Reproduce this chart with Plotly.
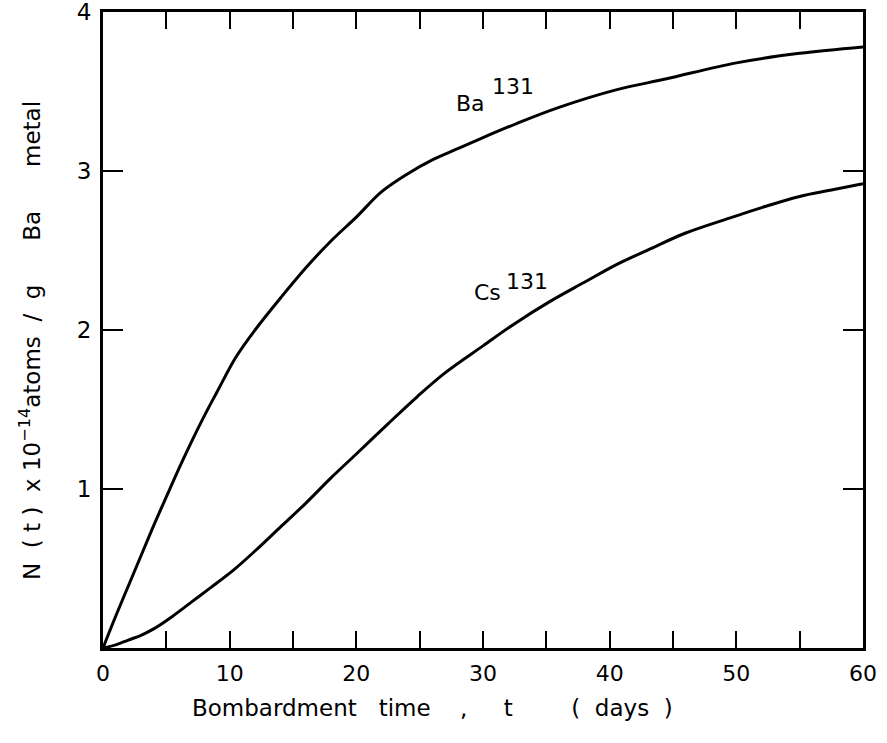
import plotly.graph_objects as go

# Ba-131 curve (days, N x 1e-14 atoms/g)
ba_t = [0, 1, 2, 3, 4, 5, 6, 7, 8, 9, 10.5, 12, 14, 16, 18, 20, 22, 24, 26, 28, 30, 32.7, 36, 40.5, 44.5, 50, 55, 60]
ba_n = [0, 0.20, 0.39, 0.58, 0.77, 0.95, 1.13, 1.30, 1.46, 1.61, 1.83, 2.00, 2.20, 2.39, 2.56, 2.71, 2.87, 2.98, 3.07, 3.14, 3.21, 3.30, 3.40, 3.51, 3.58, 3.68, 3.74, 3.78]

# Cs-131 curve
cs_t = [0, 1, 2, 3, 4, 5.5, 7, 8.5, 10.3, 12, 14, 16, 18, 20, 22.5, 24.8, 27, 30, 32.5, 35.3, 38, 40.5, 43.2, 46, 49.7, 52, 55, 57.5, 60]
cs_n = [0, 0.02, 0.05, 0.08, 0.12, 0.20, 0.29, 0.38, 0.49, 0.61, 0.76, 0.91, 1.07, 1.22, 1.41, 1.58, 1.73, 1.90, 2.04, 2.18, 2.30, 2.41, 2.51, 2.61, 2.71, 2.77, 2.84, 2.88, 2.92]

x_tickvals = [0, 10, 20, 30, 40, 50, 60]
x_ticktext = ["0", "10", "20", "30", "40", "50", "60"]
y_tickvals = [1, 2, 3, 4]
y_ticktext = ["1", "2", "3", "4"]

FONT = "DejaVu Sans"
NB = "\u00a0"

L, R, T, B = 103, 863, 12, 648
W, H = 887, 743


def px_x(p):
    return (p - L) / (R - L)


def px_y(p):
    return (B - p) / (B - T)


def dx(p):
    return (p - L) / (R - L) * 60


def dy(p):
    return (B - p) / (B - T) * 4


fig = go.Figure()
line_style = dict(color="black", width=3, shape="spline", smoothing=1.0)
fig.add_trace(go.Scatter(x=ba_t, y=ba_n, mode="lines", line=line_style, showlegend=False))
fig.add_trace(go.Scatter(x=cs_t, y=cs_n, mode="lines", line=line_style, showlegend=False))

fig.update_layout(
    width=W, height=H,
    margin=dict(l=L, r=W - R, t=T, b=H - B, autoexpand=False),
    paper_bgcolor="white", plot_bgcolor="white",
    font=dict(family=FONT, color="black", size=20),
    xaxis=dict(range=[0, 60], tickvals=x_tickvals, ticktext=x_ticktext,
               ticks="inside", ticklen=17, tickwidth=2, tickcolor="black",
               minor=dict(dtick=5, ticks="inside", ticklen=17, tickwidth=2, tickcolor="black", showgrid=False),
               showline=True, linecolor="black", linewidth=3, mirror="ticks",
               showgrid=False, zeroline=False, tickfont=dict(size=22), ticklabelstandoff=4,
               ticklabeloverflow="allow"),
    yaxis=dict(range=[0, 4], tickvals=y_tickvals, ticktext=y_ticktext,
               ticks="inside", ticklen=20, tickwidth=2, tickcolor="black",
               showline=True, linecolor="black", linewidth=3, mirror="ticks",
               showgrid=False, zeroline=False, tickfont=dict(size=23), ticklabelstandoff=4,
               ticklabeloverflow="allow"),
)

# axis titles
fig.add_annotation(xref="paper", yref="paper", x=px_x(190), y=px_y(708),
                   text="Bombardment" + NB * 3 + "time" + NB * 4 + "," + NB * 5 + "t" + NB * 8 + "(" + NB * 2 + "days" + NB * 2 + ")",
                   showarrow=False, font=dict(size=23, family=FONT), xanchor="left", yanchor="middle")
fig.add_annotation(xref="paper", yref="paper", x=px_x(30), y=px_y(341),
                   text="N" + NB * 2 + "(" + NB + "t" + NB + ")" + NB * 2 + "x" + NB + "10<sup>\u221214</sup>atoms" + NB * 2 + "/" + NB * 2 + "g" + NB * 6 + "Ba" + NB * 6 + "metal",
                   textangle=-90, showarrow=False, font=dict(size=23, family=FONT), xanchor="center", yanchor="middle")

# curve labels
fig.add_annotation(x=dx(470), y=dy(103), text="Ba", showarrow=False, font=dict(size=22, family=FONT))
fig.add_annotation(x=dx(513), y=dy(86), text="131", showarrow=False, font=dict(size=22, family=FONT))
fig.add_annotation(x=dx(487), y=dy(292), text="Cs", showarrow=False, font=dict(size=22, family=FONT))
fig.add_annotation(x=dx(527), y=dy(281), text="131", showarrow=False, font=dict(size=22, family=FONT))

fig.write_html("out.html", config={"displayModeBar": False},
               post_script="document.body.style.margin='0';document.body.style.overflow='hidden';")
